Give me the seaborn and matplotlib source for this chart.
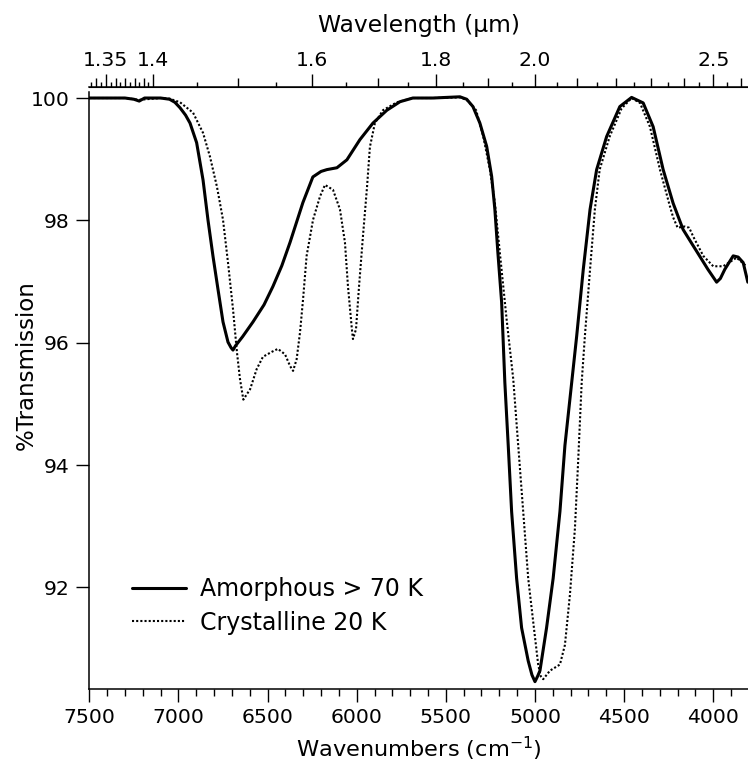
import matplotlib
matplotlib.use('Agg')
import matplotlib.pyplot as plt
import seaborn as sns

# amorphous water ice (solid line), wavenumber cm-1 vs % transmission
amorph_wn = [7500, 7400, 7300, 7250, 7220, 7190, 7100, 7050, 7020, 6991, 6960,
             6935, 6898, 6862, 6834, 6806, 6778, 6750, 6722, 6705, 6694, 6680,
             6640, 6582, 6520, 6470, 6420, 6374, 6302, 6246, 6200, 6167, 6111,
             6055, 5982, 5909, 5831, 5757, 5685, 5572, 5421, 5383, 5348, 5309,
             5271, 5243, 5225, 5208, 5187, 5169, 5150, 5131, 5103, 5075, 5038,
             5017, 5000, 4985, 4972, 4935, 4898, 4860, 4832, 4794, 4766, 4729,
             4691, 4654, 4598, 4524, 4458, 4393, 4337, 4281, 4225, 4169, 4120,
             4077, 4030, 3981, 3960, 3935, 3888, 3860, 3832, 3806]
amorph_T = [100.0, 100.0, 100.0, 99.98, 99.95, 100.0, 100.0, 99.98, 99.93, 99.84, 99.72,
            99.59, 99.27, 98.66, 98.0, 97.41, 96.87, 96.34, 96.01, 95.92, 95.88, 95.95,
            96.1, 96.34, 96.62, 96.92, 97.26, 97.64, 98.29, 98.71, 98.8, 98.83, 98.86,
            98.99, 99.32, 99.59, 99.80, 99.94, 100.0, 100.0, 100.02, 99.98, 99.86, 99.59,
            99.21, 98.72, 98.18, 97.47, 96.66, 95.35, 94.32, 93.24, 92.15, 91.34, 90.8,
            90.57, 90.46, 90.55, 90.64, 91.34, 92.15, 93.24, 94.32, 95.35, 96.11, 97.2,
            98.18, 98.83, 99.37, 99.86, 100.01, 99.92, 99.53, 98.83, 98.28, 97.85, 97.62,
            97.42, 97.2, 96.99, 97.05, 97.2, 97.42, 97.4, 97.31, 96.99]

# crystalline water ice 20 K (dotted line)
cryst_wn = [7500, 7300, 7220, 7100, 7050, 6991, 6918, 6862, 6823, 6784, 6750,
            6722, 6694, 6672, 6655, 6636, 6598, 6561, 6526, 6477, 6442, 6402,
            6374, 6357, 6337, 6318, 6301, 6281, 6245, 6206, 6178, 6133, 6094,
            6066, 6049, 6027, 6021, 6004, 5987, 5965, 5942, 5926, 5898, 5853,
            5775, 5685, 5572, 5421, 5383, 5330, 5290, 5253, 5225, 5197, 5159,
            5122, 5094, 5066, 5038, 5006, 4982, 4968, 4954, 4916, 4860, 4832,
            4804, 4776, 4758, 4738, 4720, 4691, 4664, 4637, 4581, 4514, 4458,
            4411, 4355, 4299, 4243, 4225, 4200, 4160, 4135, 4113, 4056, 4000,
            3963, 3944, 3869, 3813]
cryst_T = [100.0, 100.0, 99.97, 100.0, 99.99, 99.93, 99.76, 99.43, 99.04, 98.55, 98.01,
           97.31, 96.55, 95.85, 95.41, 95.07, 95.24, 95.57, 95.77, 95.85, 95.90, 95.81,
           95.62, 95.54, 95.73, 96.17, 96.71, 97.42, 98.01, 98.39, 98.58, 98.50, 98.18,
           97.64, 96.92, 96.22, 96.06, 96.22, 96.92, 97.74, 98.55, 99.20, 99.59, 99.80,
           99.93, 100.0, 100.0, 100.01, 99.97, 99.8, 99.37, 98.83, 98.29, 97.47, 96.38,
           95.41, 94.32, 93.24, 92.15, 91.34, 90.74, 90.55, 90.50, 90.64, 90.74, 91.06,
           91.88, 92.96, 94.05, 95.35, 96.11, 97.2, 98.18, 98.83, 99.37, 99.83, 100.0,
           99.92, 99.53, 98.83, 98.23, 98.05, 97.88, 97.9, 97.88, 97.74, 97.42, 97.25,
           97.25, 97.25, 97.39, 97.25]

labels = ['Amorphous > 70 K', 'Crystalline 20 K']

y_ticks = [92, 94, 96, 98, 100]
um_major = [1.35, 1.4, 1.6, 1.8, 2.0, 2.5]
um_major_labels = ['1.35', '1.4', '1.6', '1.8', '2.0', '2.5']
um_mid = [1.34, 1.36, 1.37, 1.38, 1.39, 1.5, 1.7, 1.9, 2.1, 2.2, 2.3, 2.4, 2.6]
um_short = [1.335, 1.345, 1.355, 1.365, 1.375, 1.385, 1.395, 1.45, 1.55, 1.65,
            1.75, 1.85, 1.95, 2.05, 2.15, 2.25, 2.35, 2.45, 2.55]

sns.set_style('ticks')
plt.rcParams['font.family'] = ['DejaVu Sans']
plt.rcParams['mathtext.fontset'] = 'dejavusans'
for k in ['text.color', 'axes.labelcolor', 'xtick.color', 'ytick.color', 'axes.edgecolor']:
    plt.rcParams[k] = 'black'

fig = plt.figure(figsize=(7.48, 7.72), dpi=100)
ax = fig.add_axes([0.1194, 0.1075, 0.8806, 0.7794])

sns.lineplot(x=amorph_wn, y=amorph_T, color='black', lw=2.2, label=labels[0],
             estimator=None, sort=False, ax=ax)
sns.lineplot(x=cryst_wn, y=cryst_T, color='black', lw=1.5, linestyle=(0, (1, 1)),
             label=labels[1], estimator=None, sort=False, ax=ax)

ax.set_xlim(7500, 3805)
ax.set_ylim(90.34, 100.175)
ax.set_xticks(range(7500, 3999, -500))
ax.set_xticks(range(7500, 3800, -100), minor=True)
ax.set_yticks(y_ticks)
ax.set_yticks([], minor=True)

ax.spines['right'].set_visible(False)
ax.spines['top'].set_visible(False)
for s in ['left', 'bottom']:
    ax.spines[s].set_linewidth(1.1)
ax.spines['left'].set_bounds(90.34, 100.10)

ax.tick_params(axis='both', which='major', direction='out', length=9.5, width=1.0,
               labelsize=14.7, pad=3)
ax.tick_params(axis='x', which='minor', direction='out', length=4.8, width=1.0)
ax.tick_params(axis='x', which='major', pad=4)
ax.tick_params(axis='y', which='major', pad=4.5)

ax.set_xlabel('Wavenumbers (cm$^{-1}$)', fontsize=16.2, labelpad=6)
ax.set_ylabel('%Transmission', fontsize=16.5)
ax.yaxis.set_label_coords(-0.078, 0.5385)

conv = (lambda x: 1e4 / x, lambda x: 1e4 / x)
sec = ax.secondary_xaxis('top', functions=conv)
sec.set_xticks(um_major, labels=um_major_labels)
sec.set_xticks(um_short, minor=True)
sec.tick_params(which='major', direction='out', length=9.5, width=1.0, labelsize=14.7, pad=3)
sec.tick_params(which='minor', direction='out', length=3.5, width=1.0)
sec.spines['top'].set_linewidth(1.1)
sec.set_xlabel('Wavelength (\u03bcm)', fontsize=16.8, labelpad=14)

sec2 = ax.secondary_xaxis('top', functions=conv)
sec2.set_xticks(um_mid, labels=[''] * len(um_mid))
sec2.set_xticks([], minor=True)
sec2.tick_params(which='major', direction='out', length=6.5, width=1.0)

leg = ax.legend(loc='upper left', bbox_to_anchor=(0.0648, 0.186), frameon=False,
                fontsize=17, handlelength=2.29, handletextpad=0.6, labelspacing=0.4,
                borderpad=0, borderaxespad=0)

fig.savefig('out.png', dpi=100)
